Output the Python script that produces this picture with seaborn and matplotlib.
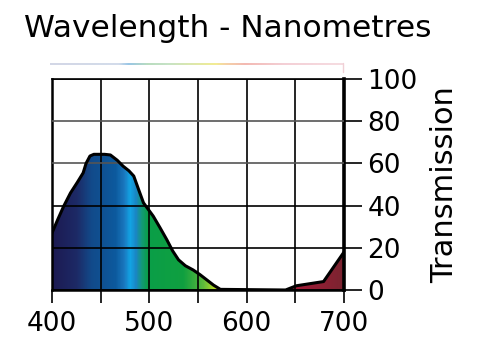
import numpy as np
import matplotlib
matplotlib.use("Agg")
import matplotlib.pyplot as plt
import seaborn as sns
from matplotlib.colors import LinearSegmentedColormap
from matplotlib.lines import Line2D

# data (wavelength nm, transmission %)
wavelength = [400, 406, 412, 419, 426, 432, 435, 439, 443, 448, 454, 460, 467,
              473, 479, 484, 489, 494, 504, 511, 518, 524, 530, 537, 545, 552,
              559, 566, 573, 640, 651, 665, 679, 700]
transmission = [27, 33.5, 39.7, 46, 51, 55.5, 60, 63.5, 64.3, 64.3, 64.3, 64,
                61.5, 58.7, 56.5, 54, 47.6, 41.3, 35, 29.5, 23.8, 18.5, 14.3,
                11.5, 9.5, 7.3, 4.8, 2.3, 0.3, 0, 2, 3, 4, 18]
x_ticks = [400, 450, 500, 550, 600, 650, 700]
x_labels = ["400", "", "500", "", "600", "", "700"]
y_ticks = [0, 20, 40, 60, 80, 100]

# spectrum colours used for the fill
spec_pos = [400, 425, 440, 465, 474, 480, 486, 492, 498, 535, 555, 572, 580, 620, 660, 700]
spec_col = ["#1c1a52", "#1d2a66", "#124a8a", "#0c5a9e", "#1a78c0", "#12a5e5",
            "#1a86c4", "#139a78", "#0a9e48", "#10a040", "#5ab83c", "#d8e41c",
            "#e8e020", "#c01c40", "#9c1c36", "#7a2430"]
spectrum = LinearSegmentedColormap.from_list(
    "spec", [((p - 400) / 300, c) for p, c in zip(spec_pos, spec_col)])

# pale rainbow strip above the plot
strip_pos = [400, 470, 480, 500, 520, 570, 580, 600, 640, 700]
strip_col = ["#c8cde0", "#c8d4e6", "#7fb8e0", "#a8d4b0", "#b8dcb8", "#f0e878",
             "#f4c890", "#f0a8a0", "#f2c4cc", "#f4d4da"]
strip_map = LinearSegmentedColormap.from_list(
    "strip", [((p - 400) / 300, c) for p, c in zip(strip_pos, strip_col)])

sns.set_style("ticks")
plt.rcParams["font.family"] = ["DejaVu Sans"]
plt.rcParams.update({"text.color": "black", "axes.labelcolor": "black",
                     "xtick.color": "black", "ytick.color": "black"})

W, H = 500, 352
fig = plt.figure(figsize=(5, 3.52), dpi=100)
ax = fig.add_axes([52 / W, 1 - 290 / H, 292 / W, 211 / H])

fill = ax.fill_between(wavelength, transmission, 0, color="none", lw=0)
grad = np.linspace(0, 1, 600).reshape(1, -1)
img = ax.imshow(grad, cmap=spectrum, extent=[400, 700, 0, 100], aspect="auto",
                origin="lower", zorder=1)
img.set_clip_path(fill.get_paths()[0], transform=ax.transData)

sns.lineplot(x=wavelength, y=transmission, color="black", lw=2.2, ax=ax,
             zorder=4, sort=False)

ax.set_xlim(400, 700)
ax.set_ylim(0, 100)
ax.set_xticks(x_ticks)
ax.set_xticklabels(x_labels)
ax.set_yticks(y_ticks)
ax.grid(True, color="black", lw=1.2, zorder=2)
ax.set_axisbelow(False)
for g in ax.get_ygridlines()[3:5]:
    g.set_color("#555555")

ax.yaxis.tick_right()
ax.yaxis.set_label_position("right")
ax.tick_params(axis="x", direction="out", length=9, width=1.2, pad=6,
               labelsize=19)
ax.tick_params(axis="y", direction="out", length=13, width=1.2, pad=4,
               labelsize=19)
for side, lw in [("left", 1.8), ("right", 2.6), ("bottom", 1.8), ("top", 1.2)]:
    ax.spines[side].set_linewidth(lw)
    ax.spines[side].set_color("black")
ax.set_xlabel("")
ax.set_ylabel("Transmission", fontsize=22, labelpad=9)

# rainbow strip
sax = fig.add_axes([50 / W, 1 - 65 / H, 293 / W, 2.5 / H])
sax.imshow(grad, cmap=strip_map, aspect="auto", alpha=0.8)
sax.axis("off")
fig.add_artist(Line2D([343 / W, 343 / W], [1 - 72 / H, 1 - 63 / H],
                      transform=fig.transFigure, color="#f0d0d6", lw=1))

fig.text(24 / W, 1 - 37 / H, "Wavelength - Nanometres", fontsize=22.5,
         va="baseline", ha="left")

fig.savefig("out.png", dpi=100)
